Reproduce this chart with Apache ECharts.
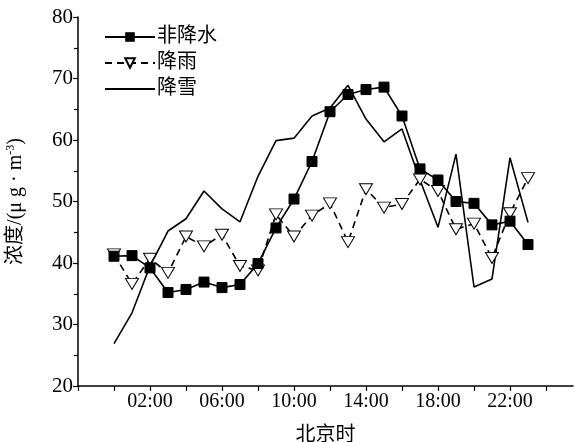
<!DOCTYPE html>
<html>
<head>
<meta charset="utf-8">
<style>
  html, body { margin: 0; padding: 0; background: #fff; }
  #chart { width: 576px; height: 442px; }
</style>
<script src="https://cdn.jsdelivr.net/npm/echarts@6/dist/echarts.min.js"></script>
</head>
<body>
<div id="chart"></div>
<script>
// Hourly concentration (μg·m⁻³) by weather type, Beijing time 00:00–23:00
const hours = [0, 1, 2, 3, 4, 5, 6, 7, 8, 9, 10, 11, 12, 13, 14, 15, 16, 17, 18, 19, 20, 21, 22, 23];
const noPrecip = [41.1, 41.2, 39.2, 35.2, 35.7, 36.9, 36.0, 36.5, 39.9, 45.7, 50.4, 56.5, 64.6, 67.4, 68.2, 68.6, 63.9, 55.3, 53.5, 50.0, 49.7, 46.2, 46.8, 43.0];
const rain = [41.4, 36.6, 40.7, 38.4, 44.3, 42.7, 44.6, 39.5, 38.8, 47.9, 44.3, 47.7, 49.7, 43.4, 52.0, 49.0, 49.6, 53.6, 51.7, 45.5, 46.4, 40.8, 48.1, 53.8];
const snow = [26.9, 31.9, 39.5, 45.2, 47.2, 51.7, 48.8, 46.7, 54.1, 59.9, 60.3, 63.9, 65.2, 68.9, 63.4, 59.7, 61.8, 53.5, 45.8, 57.7, 36.1, 37.4, 57.1, 46.6];
const seriesNames = ['非降水', '降雨', '降雪'];
const hourLabels = [2, 6, 10, 14, 18, 22];

const pair = (vals) => hours.map((h, i) => [h, vals[i]]);
const serif = '"Liberation Serif", "Noto Sans CJK SC", serif';

const chart = echarts.init(document.getElementById('chart'));
chart.setOption({
  animation: false,
  backgroundColor: '#fff',
  textStyle: { fontFamily: serif, color: '#000' },
  grid: { left: 78, right: 3, top: 17, bottom: 56, outerBoundsMode: 'none', containLabel: false },
  legend: {
    orient: 'vertical',
    left: 99,
    top: 22,
    itemWidth: 50,
    itemHeight: 12,
    itemGap: 6,
    data: [
      { name: seriesNames[0] },
      { name: seriesNames[1] },
      { name: seriesNames[2], itemStyle: { opacity: 0 } }
    ],
    textStyle: { fontFamily: serif, fontSize: 20, color: '#000', padding: [0, 0, 0, -3] }
  },
  xAxis: {
    type: 'value',
    min: -2,
    max: 25.5,
    interval: 2,
    name: '北京时',
    nameLocation: 'middle',
    nameGap: 40,
    nameTextStyle: { fontFamily: serif, fontSize: 20, color: '#000' },
    axisLine: { show: true, onZero: false, lineStyle: { color: '#000', width: 1.5 } },
    axisTick: { show: true, inside: false, length: 5, lineStyle: { color: '#000', width: 1.2 } },
    axisLabel: {
      fontFamily: serif,
      fontSize: 20,
      color: '#000',
      margin: 6,
      showMaxLabel: false,
      formatter: (v) => hourLabels.includes(v) ? String(v).padStart(2, '0') + ':00' : ''
    },
    splitLine: { show: false }
  },
  yAxis: {
    type: 'value',
    min: 20,
    max: 80,
    interval: 10,
    name: '{a|浓度/(μ g · m}{s|-3}{a|)}',
    nameLocation: 'middle',
    nameRotate: 90,
    nameGap: 51,
    nameTextStyle: {
      fontFamily: serif,
      color: '#000',
      rich: {
        a: { fontFamily: serif, fontSize: 20, color: '#000' },
        s: { fontFamily: serif, fontSize: 12, color: '#000', verticalAlign: 'top', padding: [0, 0, 10, 0] }
      }
    },
    axisLine: { show: true, onZero: false, lineStyle: { color: '#000', width: 1.5 } },
    axisTick: { show: true, inside: false, length: 5, lineStyle: { color: '#000', width: 1.2 } },
    minorTick: { show: true, splitNumber: 2, length: 4, lineStyle: { color: '#000', width: 1.2 } },
    axisLabel: { fontFamily: serif, fontSize: 21, color: '#000', margin: 5 },
    splitLine: { show: false }
  },
  series: [
    {
      name: seriesNames[0],
      type: 'line',
      data: pair(noPrecip),
      symbol: 'rect',
      symbolSize: 10,
      itemStyle: { color: '#000', borderColor: '#000' },
      lineStyle: { color: '#000', width: 1.6 },
      z: 3
    },
    {
      name: seriesNames[1],
      type: 'line',
      data: pair(rain),
      symbol: 'triangle',
      symbolRotate: 180,
      symbolSize: [13, 11],
      itemStyle: { color: '#fff', borderColor: '#000', borderWidth: 1 },
      lineStyle: { color: '#000', width: 1.6, type: [7, 5] },
      z: 2
    },
    {
      name: seriesNames[2],
      type: 'line',
      data: pair(snow),
      symbol: 'none',
      itemStyle: { color: '#000' },
      lineStyle: { color: '#000', width: 1.6 },
      z: 1
    }
  ]
});
</script>
</body>
</html>
